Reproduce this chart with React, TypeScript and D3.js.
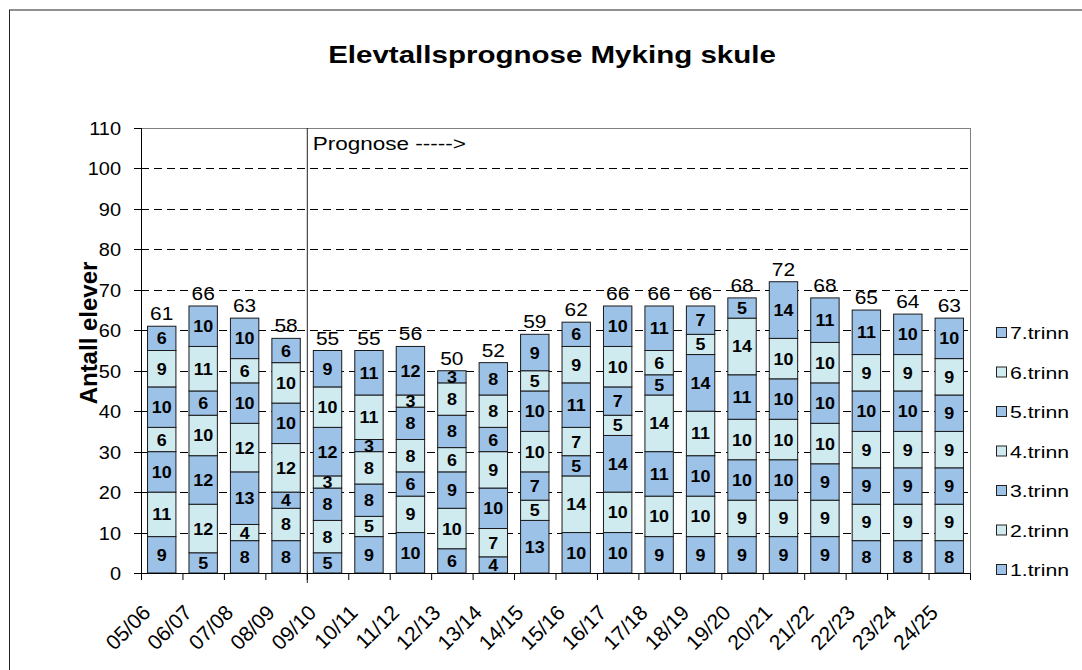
import React from "react";
import * as d3 from "d3";

const categories = ["05/06","06/07","07/08","08/09","09/10","10/11","11/12","12/13","13/14","14/15","15/16","16/17","17/18","18/19","19/20","20/21","21/22","22/23","23/24","24/25"];
const seriesNames = ["1.trinn","2.trinn","3.trinn","4.trinn","5.trinn","6.trinn","7.trinn"];
const trinn1 = [9,5,8,8,5,9,10,6,4,13,10,10,9,9,9,9,9,8,8,8];
const trinn2 = [11,12,4,8,8,5,9,10,7,5,14,10,10,10,9,9,9,9,9,9];
const trinn3 = [10,12,13,4,8,8,6,9,10,7,5,14,11,10,10,10,9,9,9,9];
const trinn4 = [6,10,12,12,3,8,8,6,9,10,7,5,14,11,10,10,10,9,9,9];
const trinn5 = [10,6,10,10,12,3,8,8,6,10,11,7,5,14,11,10,10,10,10,9];
const trinn6 = [9,11,6,10,10,11,3,8,8,5,9,10,6,5,14,10,10,9,9,9];
const trinn7 = [6,10,10,6,9,11,12,3,8,9,6,10,11,7,5,14,11,11,10,10];
const yTicks = [0,10,20,30,40,50,60,70,80,90,100,110];
const prognoseStart = "09/10";

const seriesValues = [trinn1, trinn2, trinn3, trinn4, trinn5, trinn6, trinn7];
const DARK = "#9cc2e8";
const LIGHT = "#cfebf0";
const seriesColors = seriesNames.map((_, i) => (i % 2 === 0 ? DARK : LIGHT));
const FONT = "Liberation Sans, Arial, sans-serif";

export default function App() {
  const left = 141, right = 970, top = 128, bottom = 573;
  const x = d3.scaleBand<string>().domain(categories).range([left, right]).paddingInner(0.315).paddingOuter(0.1575);
  const xb = d3.scaleBand<string>().domain(categories).range([left, right]);
  const y = d3.scaleLinear().domain([0, 110]).range([bottom, top]);

  const table = categories.map((c, i) => {
    const row: any = { cat: c };
    seriesNames.forEach((s, j) => (row[s] = seriesValues[j][i]));
    return row;
  });
  const stacked = d3.stack<any>().keys(seriesNames)(table);
  const totals = categories.map((_, i) => d3.sum(seriesValues, (s) => s[i]));
  const progX = xb(prognoseStart)!;

  return (
    <svg width={1082} height={670} style={{ position: "absolute", left: 0, top: 0, background: "#fff" }} fontFamily={FONT}>
      <rect x={9.5} y={10} width={1200} height={1200} fill="#fff" stroke="#222" strokeWidth={1} />
      <text transform="translate(552,63) scale(1.23,1)" textAnchor="middle" fontSize={24} fontWeight="bold">Elevtallsprognose Myking skule</text>

      {/* gridlines */}
      {yTicks.filter((t) => t > 0 && t < 110).map((t) => (
        <line key={t} x1={left} x2={right} y1={Math.round(y(t)) + 0.5} y2={Math.round(y(t)) + 0.5} stroke="#000" strokeDasharray="8,5" strokeWidth={1} />
      ))}
      <rect x={left + 0.5} y={Math.round(top) + 0.5} width={right - left} height={bottom - top} fill="none" stroke="#808080" strokeWidth={1} />

      {/* bars */}
      {stacked.map((layer, j) => (
        <g key={seriesNames[j]}>
          {layer.map((d, i) => {
            const y0 = y(d[0]), y1 = y(d[1]);
            const bx = x(categories[i])!;
            const cx = bx + x.bandwidth() / 2;
            return (
              <g key={i}>
                <rect x={bx} y={y1} width={x.bandwidth()} height={y0 - y1} fill={seriesColors[j]} stroke="#1a1a1a" strokeWidth={1} />
                <text transform={`translate(${cx},${(y0 + y1) / 2 + 6}) scale(1.12,1)`} textAnchor="middle" fontSize={16} fontWeight="bold" fill="#000">{d[1] - d[0]}</text>
              </g>
            );
          })}
        </g>
      ))}

      {/* totals */}
      {totals.map((t, i) => (
        <text key={i} transform={`translate(${x(categories[i])! + x.bandwidth() / 2},${y(t) - 6}) scale(1.1,1)`} textAnchor="middle" fontSize={19}>{t}</text>
      ))}

      {/* prognose line */}
      <line x1={progX + 0.5} x2={progX + 0.5} y1={top} y2={bottom + 10} stroke="#222" strokeWidth={1} />
      <text transform={`translate(${progX + 6},150) scale(1.25,1)`} fontSize={18}>Prognose -----&gt;</text>

      {/* axes */}
      <line x1={left + 0.5} x2={left + 0.5} y1={top} y2={bottom} stroke="#000" />
      <line x1={left - 7} x2={right} y1={bottom + 0.5} y2={bottom + 0.5} stroke="#000" />
      {yTicks.map((t) => (
        <g key={t}>
          <line x1={left - 7} x2={left} y1={Math.round(y(t)) + 0.5} y2={Math.round(y(t)) + 0.5} stroke="#000" />
          <text transform={`translate(${left - 20},${y(t) + 7}) scale(1.05,1)`} textAnchor="end" fontSize={19}>{t}</text>
        </g>
      ))}
      {categories.map((c) => (
        <line key={c} x1={xb(c)! + 0.5} x2={xb(c)! + 0.5} y1={bottom} y2={bottom + 7} stroke="#000" />
      ))}
      <line x1={right + 0.5} x2={right + 0.5} y1={bottom} y2={bottom + 7} stroke="#000" />
      {categories.map((c) => (
        <text key={c} transform={`translate(${xb(c)! + xb.bandwidth() / 2 - 10},614) rotate(-45)`} textAnchor="end" fontSize={21}>{c}</text>
      ))}
      <text transform="translate(97,333) rotate(-90)" textAnchor="middle" fontSize={24} fontWeight="bold">Antall elever</text>

      {/* legend */}
      {seriesNames.slice().reverse().map((s, k) => {
        const j = seriesNames.length - 1 - k;
        const ly = 333 + k * 39.5;
        return (
          <g key={s}>
            <rect x={996.5} y={ly - 5.5} width={10} height={10} fill={seriesColors[j]} stroke="#222" />
            <text transform={`translate(1010,${ly + 6}) scale(1.25,1)`} fontSize={17}>{s}</text>
          </g>
        );
      })}
    </svg>
  );
}
